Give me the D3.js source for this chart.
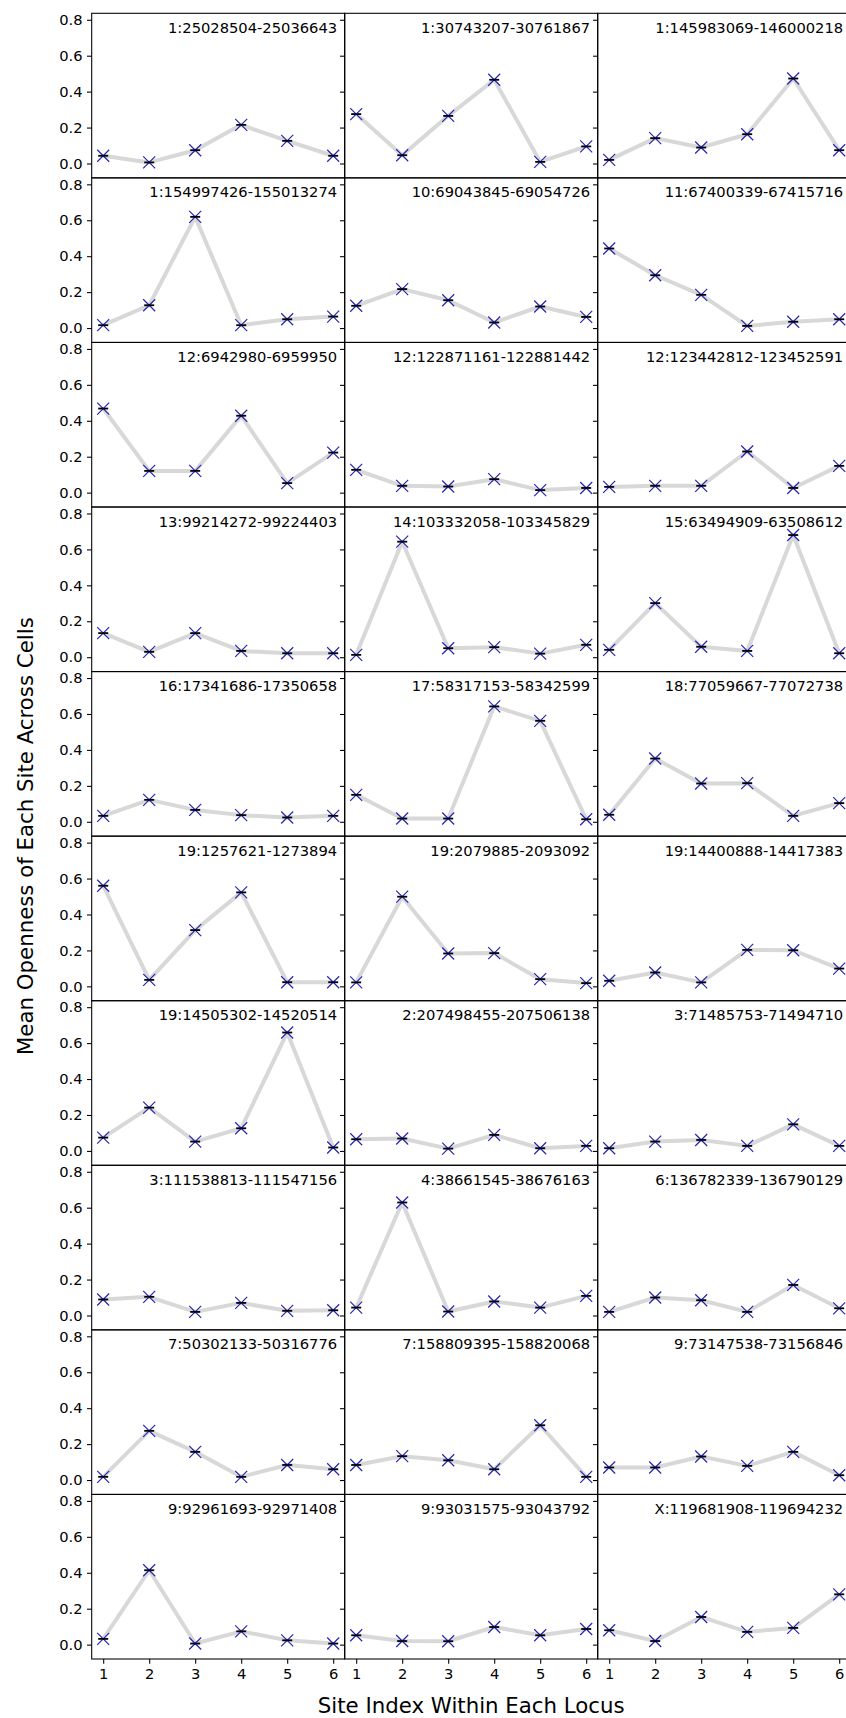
<!DOCTYPE html>
<html>
<head>
<meta charset="utf-8">
<script src="https://cdn.jsdelivr.net/npm/d3@7"></script>
<style>
  body { margin: 0; background: #fff; }
  svg { display: block; }
  svg text { font-family: "DejaVu Sans", sans-serif; }
</style>
</head>
<body>
<div id="chart"></div>
<script>
const loci = [
  "1:25028504-25036643", "1:30743207-30761867", "1:145983069-146000218",
  "1:154997426-155013274", "10:69043845-69054726", "11:67400339-67415716",
  "12:6942980-6959950", "12:122871161-122881442", "12:123442812-123452591",
  "13:99214272-99224403", "14:103332058-103345829", "15:63494909-63508612",
  "16:17341686-17350658", "17:58317153-58342599", "18:77059667-77072738",
  "19:1257621-1273894", "19:2079885-2093092", "19:14400888-14417383",
  "19:14505302-14520514", "2:207498455-207506138", "3:71485753-71494710",
  "3:111538813-111547156", "4:38661545-38676163", "6:136782339-136790129",
  "7:50302133-50316776", "7:158809395-158820068", "9:73147538-73156846",
  "9:92961693-92971408", "9:93031575-93043792", "X:119681908-119694232"
];

const sites = [1, 2, 3, 4, 5, 6];
const yTicks = [0, 0.2, 0.4, 0.6, 0.8];

// mean openness per site, one row per locus
const openness = [
  [0.043, 0.006, 0.074, 0.215, 0.126, 0.043],
  [0.275, 0.046, 0.265, 0.466, 0.009, 0.095],
  [0.020, 0.141, 0.089, 0.163, 0.473, 0.074],
  [0.016, 0.127, 0.619, 0.016, 0.049, 0.064],
  [0.124, 0.217, 0.155, 0.031, 0.120, 0.062],
  [0.443, 0.294, 0.185, 0.012, 0.035, 0.049],
  [0.468, 0.121, 0.121, 0.428, 0.053, 0.223],
  [0.127, 0.038, 0.034, 0.075, 0.014, 0.026],
  [0.032, 0.038, 0.038, 0.229, 0.026, 0.149],
  [0.134, 0.030, 0.134, 0.035, 0.022, 0.022],
  [0.013, 0.643, 0.050, 0.056, 0.020, 0.069],
  [0.041, 0.301, 0.058, 0.035, 0.680, 0.022],
  [0.033, 0.122, 0.066, 0.037, 0.024, 0.033],
  [0.150, 0.018, 0.018, 0.642, 0.562, 0.014],
  [0.039, 0.352, 0.213, 0.215, 0.033, 0.104],
  [0.560, 0.036, 0.313, 0.523, 0.023, 0.023],
  [0.022, 0.499, 0.183, 0.185, 0.040, 0.018],
  [0.031, 0.077, 0.022, 0.203, 0.201, 0.099],
  [0.074, 0.241, 0.052, 0.126, 0.659, 0.019],
  [0.065, 0.069, 0.013, 0.089, 0.015, 0.028],
  [0.015, 0.052, 0.061, 0.028, 0.148, 0.028],
  [0.089, 0.104, 0.020, 0.070, 0.026, 0.029],
  [0.044, 0.629, 0.022, 0.078, 0.044, 0.109],
  [0.020, 0.100, 0.085, 0.020, 0.170, 0.040],
  [0.018, 0.274, 0.157, 0.018, 0.084, 0.060],
  [0.084, 0.133, 0.110, 0.060, 0.305, 0.018],
  [0.070, 0.070, 0.131, 0.079, 0.157, 0.027],
  [0.032, 0.414, 0.006, 0.074, 0.024, 0.006],
  [0.052, 0.020, 0.019, 0.098, 0.052, 0.087],
  [0.080, 0.020, 0.154, 0.071, 0.093, 0.280]
];

const width = 846, height = 1718;
const nCols = 3, nRows = 10;
const gridLeft = 91.7, gridTop = 13.3;
const cellW = 253, cellH = 164.57;

const svg = d3.select("#chart")
  .append("svg")
  .attr("width", width)
  .attr("height", height);

const x = d3.scaleLinear()
  .domain([0.75, 6.25])
  .range([0, cellW]);

const y = d3.scaleLinear()
  .domain([-0.08, 0.836])
  .range([cellH, 0]);

const line = d3.line()
  .x(function (d, i) { return x(sites[i]); })
  .y(function (d) { return y(d); });

loci.forEach(function (name, k) {
  const col = k % nCols, row = Math.floor(k / nCols);
  const g = svg.append("g")
    .attr("transform", "translate(" + (gridLeft + col * cellW) + "," + (gridTop + row * cellH) + ")");

  // y axis: labels only on first column
  const yAxis = d3.axisLeft(y)
    .tickValues(yTicks)
    .tickSize(4.7)
    .tickPadding(4.5)
    .tickFormat(col === 0 ? d3.format(".1f") : "");
  const ya = g.append("g").call(yAxis)
    .attr("font-family", "DejaVu Sans")
    .attr("font-size", 14.7);
  ya.select(".domain").remove();
  ya.selectAll("line").attr("stroke-width", 1.07);
  ya.selectAll("text").attr("fill", "#000");

  if (row === nRows - 1) {
    const xa = g.append("g")
      .attr("transform", "translate(0," + cellH + ")")
      .call(d3.axisBottom(x).tickValues(sites).tickSize(4.7).tickPadding(4.5).tickFormat(d3.format("d")))
      .attr("font-family", "DejaVu Sans")
      .attr("font-size", 14.7);
    xa.select(".domain").remove();
    xa.selectAll("line").attr("stroke-width", 1.07);
    xa.selectAll("text").attr("fill", "#000");
  }

  const vals = openness[k];

  g.append("path")
    .datum(vals)
    .attr("d", line)
    .attr("fill", "none")
    .attr("stroke", "#d8d8d8")
    .attr("stroke-width", 4)
    .attr("stroke-linejoin", "round");

  const pts = g.selectAll(".pt")
    .data(vals)
    .enter()
    .append("g")
    .attr("class", "pt")
    .attr("transform", function (d, i) { return "translate(" + x(sites[i]) + "," + y(d) + ")"; });

  pts.append("path")
    .attr("d", "M-6,-6L6,6M-6,6L6,-6")
    .attr("stroke", "#2424b8")
    .attr("stroke-width", 1.2)
    .attr("fill", "none");

  pts.append("line")
    .attr("x1", -5).attr("x2", 5)
    .attr("stroke", "#000")
    .attr("stroke-width", 1.8);

  g.append("rect")
    .attr("width", cellW)
    .attr("height", cellH)
    .attr("fill", "none")
    .attr("stroke", "#000")
    .attr("stroke-width", 1.07);

  g.append("text")
    .attr("x", cellW * 0.97)
    .attr("y", cellH * 0.05 + 11.3)
    .attr("text-anchor", "end")
    .attr("font-size", 14.7)
    .text(name);
});

svg.append("text")
  .attr("transform", "translate(32.5," + (gridTop + nRows * cellH / 2) + ") rotate(-90)")
  .attr("text-anchor", "middle")
  .attr("font-size", 21.3)
  .text("Mean Openness of Each Site Across Cells");

svg.append("text")
  .attr("x", gridLeft + nCols * cellW / 2)
  .attr("y", 1713.3)
  .attr("text-anchor", "middle")
  .attr("font-size", 21.3)
  .text("Site Index Within Each Locus");
</script>
</body>
</html>
